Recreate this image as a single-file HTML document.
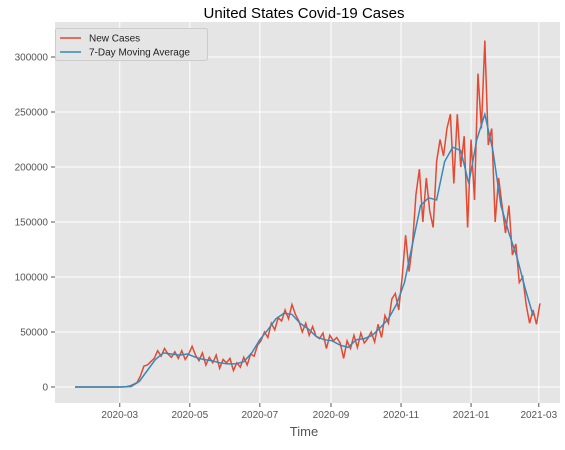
<!DOCTYPE html>
<html><head><meta charset="utf-8"><style>
body{margin:0;background:#fff;font-family:"Liberation Sans",sans-serif}
svg text{font-family:"Liberation Sans",sans-serif}
</style></head><body>
<svg id="c" width="565" height="445">
<text x="304" y="18" font-size="15" text-anchor="middle" fill="#000">United States Covid-19 Cases</text>
<rect x="55" y="22" width="505" height="381" fill="#E5E5E5"/>
<g id="grid"></g><g id="ticks"></g><g id="series"></g>
<text x="304" y="436" font-size="13" text-anchor="middle" fill="#555">Time</text>
<g>
<rect x="55.5" y="28.5" width="152" height="32" rx="2" fill="#E5E5E5" stroke="#ccc"/>
<line x1="60" y1="38" x2="81" y2="38" stroke="#E24A33" stroke-width="1.5"/>
<text x="89" y="41.5" font-size="10" fill="#222">New Cases</text>
<line x1="60" y1="52" x2="81" y2="52" stroke="#348ABD" stroke-width="1.5"/>
<text x="89" y="55.5" font-size="10" fill="#222">7-Day Moving Average</text>
</g>
</svg>
<script>
const yTicks=[0,50000,100000,150000,200000,250000,300000];
const xTickLabels=["2020-03","2020-05","2020-07","2020-09","2020-11","2021-01","2021-03"];
const xTickDays=[39,100,161,223,284,345,404];
// new cases (thousands), every 3 days from 2020-01-22
const newCases=[0,0,0,0,0,0,0,0,0,0,0,0,0,0,
0.1,0.4,1,2.5,4,10,19,20,23,26,
33,28,35,30,27,32,26,33,25,30,
37,29,24,31,20,27,22,29,17,25,
22,26,15,22,18,27,20,30,28,38,
42,50,45,58,52,63,60,70,62,75,
66,60,50,58,47,55,46,44,49,35,47,
42,45,40,26,42,35,47,36,49,40,
44,50,41,57,45,65,58,80,85,70,
100,138,105,130,175,198,150,190,160,145,205,
225,210,235,248,185,248,200,228,145,225,
170,285,235,315,220,235,150,190,165,140,165,
120,130,95,100,75,58,70,57,76];
const ncStep=3;
// 7-day moving average (thousands), weekly from 2020-01-22
const movingAvg=[0,0,0,0,0,0,0.1,0.5,5,15,25,31,30,29,30,27,25,24,22,21,21,23,31,43,52,62,67,66,58,53,46,43,42,38,36,43,44,47,54,62,75,95,130,165,172,170,205,218,215,185,225,248,215,165,140,118,90,65];
const maStep=7;
const NS="http://www.w3.org/2000/svg";
const X=d=>75+d*1.148, Y=v=>387-v*0.0011;
function mk(t,a,p){const e=document.createElementNS(NS,t);for(const k in a)e.setAttribute(k,a[k]);p.appendChild(e);return e;}
const grid=document.getElementById('grid'),ticks=document.getElementById('ticks'),ser=document.getElementById('series');
yTicks.forEach(v=>{const y=Y(v);
const l=mk('line',{x1:55,x2:560,y1:y,y2:y,stroke:'#fff','stroke-width':1},grid);


mk('line',{x1:51,x2:55,y1:y,y2:y,stroke:'#555'},ticks);
const t=mk('text',{x:48,y:y+3.5,'font-size':10,'text-anchor':'end',fill:'#555'},ticks);t.textContent=v;

});
xTickDays.forEach((d,i)=>{const x=X(d);
const l=mk('line',{x1:x,x2:x,y1:22,y2:403,stroke:'#fff','stroke-width':1},grid);


mk('line',{x1:x,x2:x,y1:403,y2:407,stroke:'#555'},ticks);
const t=mk('text',{x:x,y:418,'font-size':10,'text-anchor':'middle',fill:'#555'},ticks);t.textContent=xTickLabels[i];

});
const p1=mk('polyline',{points:newCases.map((v,i)=>X(i*ncStep)+','+Y(v*1000)).join(' '),fill:'none',stroke:'#E24A33','stroke-width':1.5},ser);


const p2=mk('polyline',{points:movingAvg.map((v,i)=>X(i*maStep)+','+Y(v*1000)).join(' '),fill:'none',stroke:'#348ABD','stroke-width':1.5},ser);


</script>
</body></html>
